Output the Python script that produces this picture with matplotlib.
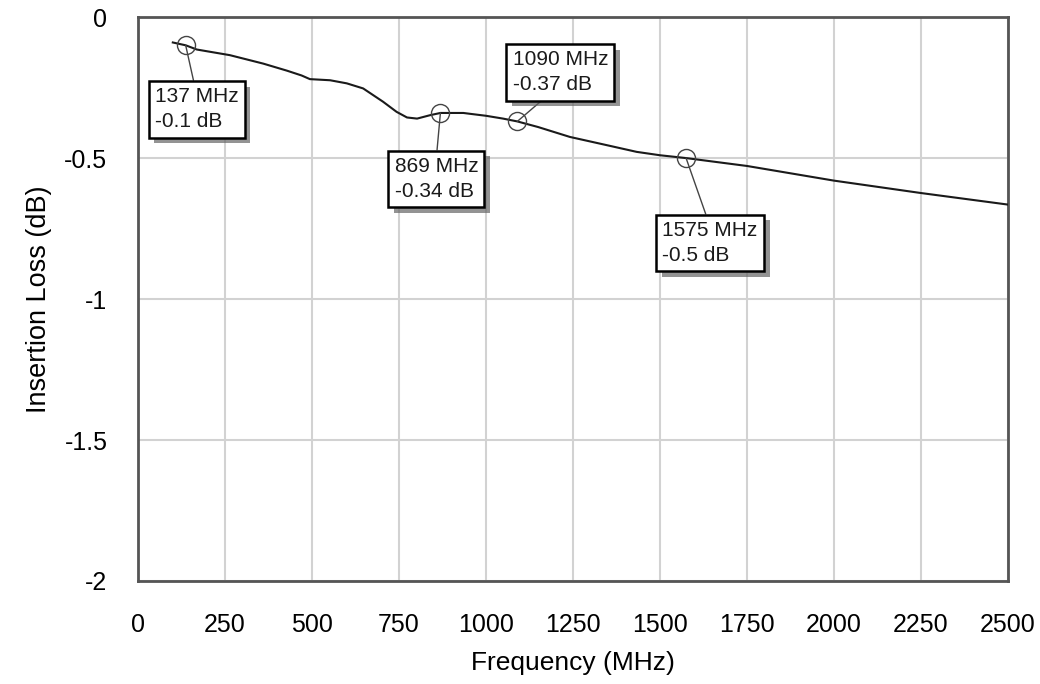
import matplotlib.pyplot as plt
import matplotlib.patheffects as pe

plt.rcParams['font.family'] = ['Liberation Sans', 'DejaVu Sans']

# Insertion loss curve
freq = [100, 137, 169, 264, 360, 428, 470, 494, 552, 600, 647, 704, 743, 773,
        802, 839, 869, 935, 954, 1000, 1049, 1090, 1150, 1241, 1350, 1433, 1500,
        1575, 1750, 2000, 2250, 2500]
loss = [-0.09, -0.10, -0.115, -0.135, -0.165, -0.19, -0.207, -0.22, -0.224,
        -0.235, -0.253, -0.30, -0.336, -0.356, -0.36, -0.348, -0.34, -0.34,
        -0.343, -0.35, -0.36, -0.37, -0.39, -0.425, -0.455, -0.478, -0.49,
        -0.50, -0.528, -0.58, -0.624, -0.665]

# Marker annotations
mark_freq = [137, 869, 1090, 1575]
mark_loss = [-0.1, -0.34, -0.37, -0.5]
mark_text = ['137 MHz\n-0.1 dB', '869 MHz\n-0.34 dB', '1090 MHz\n-0.37 dB', '1575 MHz\n-0.5 dB']
mark_offset = [(11, -64), (-4, -66), (43, 49), (24, -85)]
mark_relpos = [(0.48, 1.0), (0.5, 1.0), (0.38, 0.0), (0.48, 1.0)]

xticks = [0, 250, 500, 750, 1000, 1250, 1500, 1750, 2000, 2250, 2500]
yticks = [0, -0.5, -1, -1.5, -2]
ytick_labels = ['0', '-0.5', '-1', '-1.5', '-2']

fig = plt.figure(figsize=(10.4, 6.84), dpi=100)
ax = fig.add_axes([0.1327, 0.1506, 0.8365, 0.8244])

ax.plot(freq, loss, color='#1a1a1a', lw=1.5, zorder=3)
ax.plot(mark_freq, mark_loss, 'o', ms=13, mfc='none', mec='#444444', mew=1.0, zorder=4)

for f, l, t, off, rp in zip(mark_freq, mark_loss, mark_text, mark_offset, mark_relpos):
    ann = ax.annotate(t, xy=(f, l), xytext=off, textcoords='offset pixels',
                      ha='center', va='center', multialignment='left',
                      fontsize=15, color='#1a1a1a', linespacing=1.4, zorder=5,
                      bbox=dict(boxstyle='square,pad=0.3', fc='white', ec='black', lw=1.8),
                      arrowprops=dict(arrowstyle='-', color='#444444', lw=1.0,
                                      shrinkA=0, shrinkB=0, relpos=rp))
    ann.get_bbox_patch().set_path_effects([
        pe.SimplePatchShadow(offset=(4, -4), shadow_rgbFace='#666666', alpha=0.7),
        pe.Normal()])

ax.set_xlim(0, 2500)
ax.set_ylim(-2, 0)
ax.set_xticks(xticks)
ax.set_yticks(yticks)
ax.set_yticklabels(ytick_labels)
ax.tick_params(length=0, labelsize=18, labelcolor='black')
ax.tick_params(axis='y', pad=22)
ax.tick_params(axis='x', pad=23)
ax.grid(True, color='#d2d2d2', lw=1.5)
for s in ax.spines.values():
    s.set_color('#555555')
    s.set_linewidth(2)

ax.set_xlabel('Frequency (MHz)', fontsize=19, labelpad=10)
ax.set_ylabel('Insertion Loss (dB)', fontsize=19.5, labelpad=9)

fig.savefig('out.png', dpi=100)
